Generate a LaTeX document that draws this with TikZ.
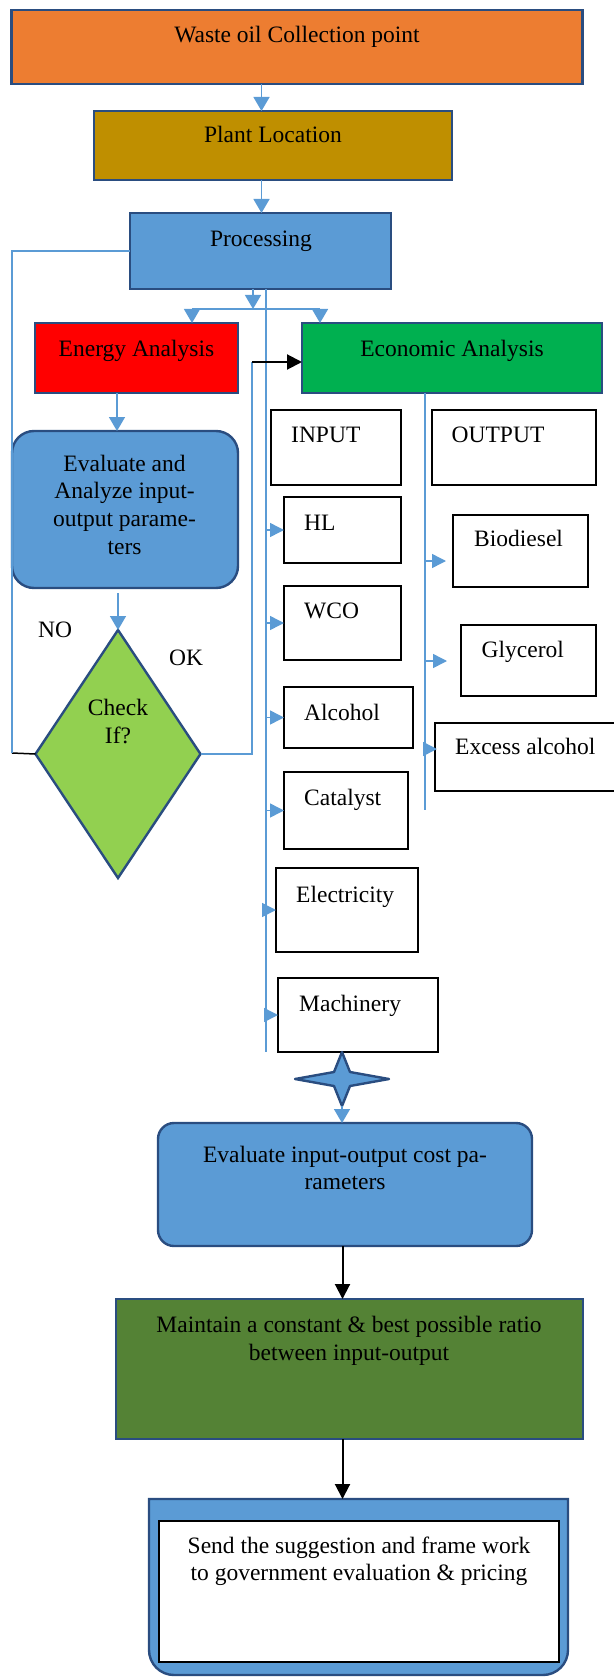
\documentclass[tikz,border=0pt]{standalone}
\usepackage{fontspec}
\setmainfont{Liberation Serif}
\usetikzlibrary{arrows.meta,shapes.geometric}
\definecolor{cOrange}{HTML}{ED7D31}
\definecolor{cGold}{HTML}{BF8F00}
\definecolor{cBlue}{HTML}{5B9BD5}
\definecolor{cRed}{HTML}{FF0000}
\definecolor{cGreen}{HTML}{00B050}
\definecolor{cLGreen}{HTML}{92D050}
\definecolor{cDGreen}{HTML}{548235}
\definecolor{cBorder}{HTML}{2A4D80}
\definecolor{cLine}{HTML}{5B9BD5}
\begin{document}
\begin{tikzpicture}[x=1pt,y=-1pt,
  cbox/.style={draw=cBorder, line width=2.4pt, inner sep=0pt, outer sep=0pt},
  wbox/.style={draw=black, line width=1.2pt, fill=white, inner sep=0pt, outer sep=0pt},
  txt/.style={inner sep=0pt, font=\fontsize{23.5}{28}\selectfont},
  conn/.style={draw=cLine, line width=1.5pt},
  barr/.style={conn, -{Triangle[length=14pt,width=16pt]}},
  sarr/.style={conn, -{Triangle[length=14pt,width=14pt]}},
  karr/.style={draw=black, line width=2pt, -{Triangle[length=15pt,width=15pt]}},
]
\useasboundingbox (0,0) rectangle (613,1677);

% main boxes
\node[cbox, fill=cOrange, minimum width=571pt, minimum height=74pt] (waste) at (297,47) {};
\node[cbox, fill=cGold, minimum width=358pt, minimum height=69pt] (plant) at (273,145.5) {};
\node[cbox, fill=cBlue, minimum width=261pt, minimum height=76pt] (proc) at (260.5,251) {};
\node[cbox, fill=cRed, minimum width=203pt, minimum height=70pt] (energy) at (136.5,358) {};
\node[cbox, fill=cGreen, minimum width=300pt, minimum height=70pt] (econ) at (452,358) {};
\node[cbox, fill=cBlue, rounded corners=22pt, minimum width=226pt, minimum height=157pt] (evalA) at (125,509.5) {};
\node[cbox, fill=cLGreen, shape=diamond, minimum width=165pt, minimum height=248pt] (diam) at (118,754) {};

% input / output boxes
\node[wbox, minimum width=130pt, minimum height=75pt] (inp) at (336,447.5) {};
\node[wbox, minimum width=164pt, minimum height=75pt] (outp) at (514,447.5) {};
\node[wbox, minimum width=117pt, minimum height=66pt] (hl) at (342.5,530) {};
\node[wbox, minimum width=135pt, minimum height=72pt] (bio) at (520.5,551) {};
\node[wbox, minimum width=117pt, minimum height=74pt] (wco) at (342.5,623) {};
\node[wbox, minimum width=135pt, minimum height=71pt] (gly) at (528.5,660.5) {};
\node[wbox, minimum width=129pt, minimum height=61pt] (alc) at (348.5,717.5) {};
\node[wbox, minimum width=183pt, minimum height=68pt] (exc) at (526.5,757) {};
\node[wbox, minimum width=124pt, minimum height=77pt] (cat) at (346,810.5) {};
\node[wbox, minimum width=142pt, minimum height=84pt] (elec) at (347,910) {};
\node[wbox, minimum width=160pt, minimum height=74pt] (mach) at (358,1015) {};

% star
\node[inner sep=0pt, minimum width=94pt, minimum height=54pt] (star) at (342,1079) {};
\draw[fill=cBlue, draw=cBorder, line width=2.4pt, line join=round]
  (342,1052) -- (350,1072) -- (389,1079) -- (350,1086) -- (342,1106)
  -- (334,1086) -- (295,1079) -- (334,1072) -- cycle;

% lower boxes
\node[cbox, fill=cBlue, rounded corners=16pt, minimum width=374pt, minimum height=123pt] (evalC) at (345,1184.5) {};
\node[cbox, fill=cDGreen, minimum width=467pt, minimum height=140pt] (maint) at (349.5,1369) {};
\node[inner sep=0pt, outer sep=0pt, minimum width=419pt, minimum height=176pt] (sendO) at (358.5,1587) {};
\draw[fill=cBlue, draw=cBorder, line width=2.4pt]
  (149,1499) -- (149,1650) arc[start angle=180, end angle=90, radius=25]
  -- (543,1675) arc[start angle=90, end angle=0, radius=25] -- (568,1499) -- cycle;
\node[wbox, minimum width=400pt, minimum height=141pt] (sendI) at (359,1591.5) {};

% coordinates
\coordinate (split) at (253,309);
\coordinate (sL) at (192,309);
\coordinate (sR) at (320,309);
\coordinate (bus) at (266,289);
\coordinate (busEnd) at (266,1052);
\coordinate (obus) at (425,393);
\coordinate (obusEnd) at (425,810);
\coordinate (okc) at (252,362);
\coordinate (noc) at (12,753);
\coordinate (ea) at (117,393);
\coordinate (ed) at (118,593);
\coordinate (bioIn) at (446,561);
\coordinate (glyIn) at (447,661);
\coordinate (excIn) at (437,749);
\coordinate (mid) at (342.5,0);

% connectors top
\draw[barr] (waste.south -| 261.5,0) -- (plant.north -| 261.5,0);
\draw[barr] (plant.south -| 261.5,0) -- (proc.north -| 261.5,0);
\draw[barr] (split |- proc.south) -- (split);
\draw[conn] (sL) -- (sR);
\draw[barr] (sL) -- (sL |- energy.north);
\draw[barr] (sR) -- (sR |- econ.north);
\draw[conn, line width=1.2pt] (bus) -- (busEnd);
\draw[conn, line width=1.2pt] (obus) -- (obusEnd);

% energy branch
\draw[barr] (ea) -- (ea |- evalA.north);
\draw[barr] (ed) -- (diam.north);
\draw[conn] (diam.east) -| (okc);
\draw[karr] (okc) -- (okc -| econ.west);
\draw[black, line width=1.5pt] (diam.west) -- (noc);
\draw[conn] (noc) |- (proc.west);

% input arrows
\draw[sarr] (hl.west -| bus) -- (hl.west);
\draw[sarr] (wco.west -| bus) -- (wco.west);
\draw[sarr] (alc.west -| bus) -- (alc.west);
\draw[sarr] (cat.west -| bus) -- (cat.west);
\draw[sarr] (elec.west -| bus) -- (elec.west);
\draw[sarr] (mach.west -| bus) -- (mach.west);

% output arrows
\draw[sarr] (bioIn -| obus) -- (bioIn);
\draw[sarr] (glyIn -| obus) -- (glyIn);
\draw[sarr] (excIn -| obus) -- (excIn);

% lower connectors
\draw[barr] (star.south) -- (star.south |- evalC.north);
\draw[karr] (evalC.south -| mid) -- (maint.north -| mid);
\draw[karr] (maint.south -| mid) -- (sendO.north -| mid);

% texts
\node[txt, anchor=base] (t1) at (297,43) {Waste oil Collection point};
\node[txt, anchor=base] (t2) at (273,143) {Plant Location};
\node[txt, anchor=base] (t3) at (261,247) {Processing};
\node[txt, anchor=base] (t4) at (136.5,356) {Energy Analysis};
\node[txt, anchor=base] (t5) at (452,356) {Economic Analysis};
\node[txt, anchor=base west] (t6) at (291,442) {INPUT};
\node[txt, anchor=base west] (t7) at (451.5,442) {OUTPUT};
\node[txt, anchor=base] (t8a) at (124.5,471) {Evaluate and};
\node[txt, anchor=base] (t8b) at (124.5,498.5) {Analyze input-};
\node[txt, anchor=base] (t8c) at (124.5,526) {output parame-};
\node[txt, anchor=base] (t8d) at (124.5,554) {ters};
\node[txt, anchor=base west] (tno) at (38,637) {NO};
\node[txt, anchor=base west] (tok) at (169,665) {OK};
\node[txt, anchor=base] (tc1) at (118,715) {Check};
\node[txt, anchor=base] (tc2) at (118,743) {If?};
\node[txt, anchor=base west] (thl) at (304,530) {HL};
\node[txt, anchor=base west] (tbio) at (474,546) {Biodiesel};
\node[txt, anchor=base west] (twco) at (304,618) {WCO};
\node[txt, anchor=base west] (tgly) at (481.5,657) {Glycerol};
\node[txt, anchor=base west] (talc) at (304,720) {Alcohol};
\node[txt, anchor=base west] (texc) at (455,754) {Excess alcohol};
\node[txt, anchor=base west] (tcat) at (304,805) {Catalyst};
\node[txt, anchor=base west] (telec) at (296,902) {Electricity};
\node[txt, anchor=base west] (tmach) at (299,1011) {Machinery};
\node[txt, anchor=base] (tev1) at (345,1162) {Evaluate input-output cost pa-};
\node[txt, anchor=base] (tev2) at (345,1189) {rameters};
\node[txt, anchor=base] (tm1) at (349,1332) {Maintain a constant \& best possible ratio};
\node[txt, anchor=base] (tm2) at (349,1360) {between input-output};
\node[txt, anchor=base] (ts1) at (359,1553) {Send the suggestion and frame work};
\node[txt, anchor=base] (ts2) at (359,1580) {to government evaluation \& pricing};
\end{tikzpicture}
\end{document}
